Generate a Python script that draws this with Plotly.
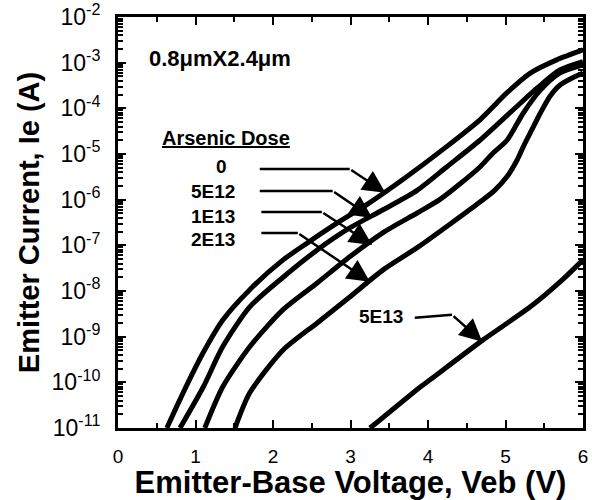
import plotly.graph_objects as go

# ---- data ----
v_0 = [0.63, 0.84, 1.10, 1.35, 1.70, 2.13, 2.44, 2.83, 3.21, 3.68, 4.24, 4.67, 5.02, 5.32, 5.66, 6.00]
i_0 = [1e-11, 5.9e-11, 4.5e-10, 2.3e-9, 1.07e-8, 4.8e-8, 1.12e-7, 3.1e-7, 7.8e-7, 2.8e-6, 1.45e-5, 5.6e-5, 2.2e-4, 5.9e-4, 1.15e-3, 1.9e-3]

v_5e12 = [0.80, 1.10, 1.35, 1.70, 2.13, 2.57, 2.99, 3.42, 3.86, 4.24, 4.67, 5.10, 5.41, 5.70, 6.00]
i_5e12 = [1e-11, 7.9e-11, 6.0e-10, 4.5e-9, 2.0e-8, 7.9e-8, 2.4e-7, 6.0e-7, 1.6e-6, 5.2e-6, 2.0e-5, 9.3e-5, 2.8e-4, 6.9e-4, 1.05e-3]

v_1e13 = [1.12, 1.35, 1.70, 2.13, 2.57, 2.99, 3.42, 3.86, 4.15, 4.41, 4.67, 4.84, 5.02, 5.23, 5.45, 5.70, 6.00]
i_1e13 = [1e-11, 7.9e-11, 6.0e-10, 3.9e-9, 1.5e-8, 5.6e-8, 1.9e-7, 5.1e-7, 1.0e-6, 2.2e-6, 5.2e-6, 1.05e-5, 2.0e-5, 7.9e-5, 2.5e-4, 5.9e-4, 8.9e-4]

v_2e13 = [1.51, 1.70, 2.13, 2.57, 2.99, 3.42, 3.86, 4.71, 4.86, 5.02, 5.15, 5.23, 5.34, 5.45, 5.57, 5.70, 5.86, 6.00]
i_2e13 = [1e-11, 5.9e-11, 5.1e-10, 2.0e-9, 7.4e-9, 2.9e-8, 8.9e-8, 1.0e-6, 1.6e-6, 3.2e-6, 7.4e-6, 1.45e-5, 3.4e-5, 7.9e-5, 1.8e-4, 3.2e-4, 4.6e-4, 5.9e-4]

v_5e13 = [3.25, 3.38, 3.90, 4.03, 4.71, 5.32, 5.74, 6.00]
i_5e13 = [1e-11, 1.5e-11, 7.9e-11, 1.15e-10, 8.5e-10, 4.5e-9, 1.8e-8, 4.8e-8]

series = [("0", v_0, i_0), ("5E12", v_5e12, i_5e12), ("1E13", v_1e13, i_1e13),
          ("2E13", v_2e13, i_2e13), ("5E13", v_5e13, i_5e13)]

y_tick_exp = [-2, -3, -4, -5, -6, -7, -8, -9, -10, -11]
y_tick_text = ["10<sup>%d</sup>" % e for e in y_tick_exp]
x_tick_vals = [0, 1, 2, 3, 4, 5, 6]
x_tick_text = ["0", "1", "2", "3", "4", "5", "6"]

FONT = "Arial, Liberation Sans, sans-serif"

fig = go.Figure()
for name, v, i in series:
    fig.add_trace(go.Scatter(x=v, y=i, mode="lines", name=name,
                             line=dict(color="black", width=5, shape="spline", smoothing=0.7),
                             showlegend=False))

annotations = []
annotations.append(dict(x=1.32, y=-2.90, text="<b>0.8\u03bcmX2.4\u03bcm</b>", showarrow=False,
                        font=dict(size=22, family=FONT, color="black"), xanchor="center", yanchor="middle"))
annotations.append(dict(x=1.39, y=-4.65, text="<b><u>Arsenic Dose</u></b>", showarrow=False,
                        font=dict(size=20, family=FONT, color="black"), xanchor="center", yanchor="middle"))

labels = [("0", 1.43, -5.28), ("5E12", 1.535, -5.83), ("1E13", 1.535, -6.36), ("2E13", 1.535, -6.88),
          ("5E13", 3.70, -8.56)]
for t, x, y in labels:
    annotations.append(dict(x=x, y=y, text="<b>%s</b>" % t, showarrow=False,
                            font=dict(size=19, family=FONT, color="black"), xanchor="right", yanchor="middle"))

# arrows: tail -> elbow -> tip
arrows = [((1.81, -5.33), (2.99, -5.33), (3.45, -5.85)),
          ((1.81, -5.81), (2.77, -5.81), (3.28, -6.40)),
          ((1.83, -6.27), (2.63, -6.27), (3.28, -6.99)),
          ((1.83, -6.73), (2.32, -6.73), (3.25, -7.80)),
          ((3.81, -8.59), (4.31, -8.52), (4.70, -9.11))]
for tail, elbow, tip in arrows:
    annotations.append(dict(x=elbow[0], y=elbow[1], ax=tail[0], ay=tail[1], axref="x", ayref="y",
                            xref="x", yref="y", text="", showarrow=True, arrowhead=0,
                            arrowwidth=2.5, arrowcolor="black", standoff=0, startstandoff=0))
    annotations.append(dict(x=tip[0], y=tip[1], ax=elbow[0], ay=elbow[1], axref="x", ayref="y",
                            xref="x", yref="y", text="", showarrow=True, arrowhead=2, arrowsize=1.8,
                            arrowwidth=2.5, arrowcolor="black", standoff=0, startstandoff=0))

fig.update_layout(
    width=592, height=500,
    margin=dict(l=118, r=9, t=17, b=72),
    paper_bgcolor="white", plot_bgcolor="white",
    annotations=annotations,
    font=dict(family=FONT, color="black"),
)
fig.update_xaxes(range=[0, 6], tickvals=x_tick_vals, ticktext=x_tick_text,
                 ticks="inside", ticklen=8, tickwidth=2, tickcolor="black",
                 minor=dict(dtick=0.5, ticks="inside", ticklen=5, tickwidth=2, tickcolor="black"),
                 showline=True, linewidth=3, linecolor="black", mirror="ticks",
                 showgrid=False, zeroline=False, ticklabelstandoff=9,
                 tickfont=dict(size=19, family=FONT, color="black"), automargin=False,
                 title=dict(text="<b>Emitter-Base Voltage, Veb (V)</b>",
                            font=dict(size=31, family=FONT, color="black"), standoff=3))
fig.update_yaxes(type="log", range=[-11, -2], tickvals=[10.0 ** e for e in y_tick_exp], ticktext=y_tick_text,
                 ticks="inside", ticklen=8, tickwidth=2, tickcolor="black",
                 minor=dict(dtick="D1", ticks="inside", ticklen=5, tickwidth=1.5, tickcolor="black"),
                 showline=True, linewidth=3, linecolor="black", mirror="ticks",
                 showgrid=False, zeroline=False, ticklabelstandoff=10, automargin=False,
                 tickfont=dict(size=23, family=FONT, color="black"),
                 title=dict(text="<b>Emitter Current, Ie (A)</b>",
                            font=dict(size=29, family=FONT, color="black"), standoff=4))

fig.write_html("out.html")
